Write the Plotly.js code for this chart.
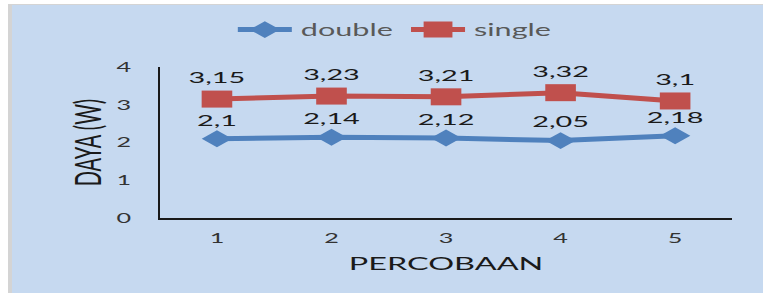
<!DOCTYPE html>
<html>
<head>
<meta charset="utf-8">
<script src="https://cdn.plot.ly/plotly-3.0.1.min.js"></script>
<style>
  html, body { margin:0; padding:0; background:#ffffff; width:763px; height:293px; overflow:hidden; }
  #frame { position:absolute; left:8px; top:4px; width:755px; height:289px; background:#d4d4d4; }
  #chart { position:absolute; left:12px; top:5px; width:417px; height:288px;
           transform: scaleX(1.801); transform-origin: 0 0; }
</style>
</head>
<body>
<div id="frame"></div>
<div id="chart"></div>
<script>
const categories = ['1', '2', '3', '4', '5'];
const doubleValues = [2.1, 2.14, 2.12, 2.05, 2.18];
const singleValues = [3.15, 3.23, 3.21, 3.32, 3.1];
const yTickValues = [0, 1, 2, 3, 4];
const seriesNames = ['double', 'single'];

const fmt = v => String(v).replace('.', ',');
const FONT = 'Lato, "DejaVu Sans", sans-serif';

const traces = [
  {
    type: 'scatter', mode: 'lines+markers+text', name: seriesNames[0],
    x: categories, y: doubleValues,
    text: doubleValues.map(fmt), textposition: 'top center',
    textfont: {family: FONT, size: 16, color: '#1a1a1a'},
    line: {color: '#4f81bd', width: 5},
    marker: {symbol: 'diamond', size: 13, color: '#4f81bd'},
    cliponaxis: false
  },
  {
    type: 'scatter', mode: 'lines+markers+text', name: seriesNames[1],
    x: categories, y: singleValues,
    text: singleValues.map(fmt), textposition: 'top center',
    textfont: {family: FONT, size: 16, color: '#1a1a1a'},
    line: {color: '#c0504d', width: 5},
    marker: {symbol: 'square', size: 17, color: '#c0504d'},
    cliponaxis: false
  }
];

const layout = {
  width: 417, height: 288,
  margin: {l: 82, r: 17, t: 62, b: 75, pad: 0, autoexpand: false},
  paper_bgcolor: '#c6d9f0', plot_bgcolor: '#c6d9f0',
  font: {family: FONT, color: '#222'},
  showlegend: true,
  legend: {
    orientation: 'h', x: 0.41, xanchor: 'center',
    yref: 'container', y: 0.913, yanchor: 'middle',
    font: {family: FONT, size: 17, color: '#595959'},
    bgcolor: 'rgba(0,0,0,0)', itemwidth: 30, traceorder: 'normal'
  },
  xaxis: {
    type: 'category', range: [-0.5, 4.5],
    showline: true, linecolor: '#1a1a1a', linewidth: 1.5,
    showgrid: false, zeroline: false, ticks: '',
    ticklabelstandoff: 7,
    tickfont: {family: FONT, size: 14, color: '#333'},
    title: {text: 'PERCOBAAN', font: {family: FONT, size: 18, color: '#1a1a1a'}, standoff: 12},
    automargin: false
  },
  yaxis: {
    range: [0, 4], tickvals: yTickValues,
    showline: true, linecolor: '#1a1a1a', linewidth: 1,
    showgrid: false, zeroline: false, ticks: '',
    ticklabelstandoff: 12,
    tickfont: {family: FONT, size: 14, color: '#333'},
    title: {text: 'DAYA (W)', font: {family: FONT, size: 20, color: '#1a1a1a'}, standoff: 2},
    automargin: false
  }
};

Plotly.newPlot('chart', traces, layout, {staticPlot: true, displayModeBar: false});
</script>
</body>
</html>
